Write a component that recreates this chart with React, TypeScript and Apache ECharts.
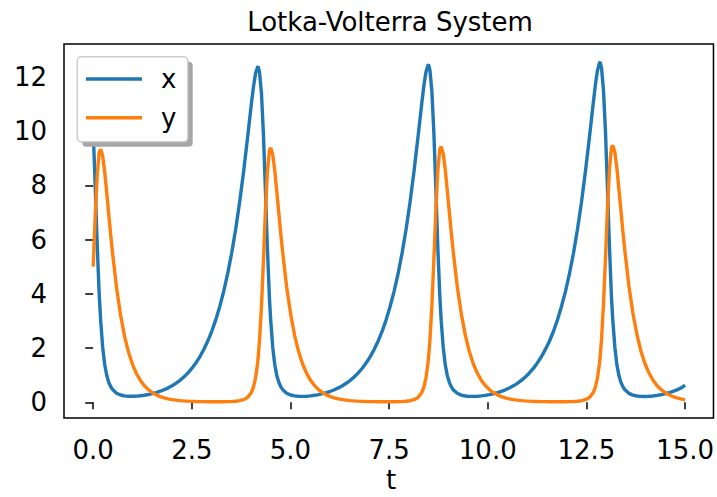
import React, { useEffect, useRef } from "react";
import * as echarts from "echarts";

// time points (t)
const T_VALUES = [
  // start of run, up to first y peak
  0, 0.05, 0.10, 0.15, 0.19,
  // cycle 1, decay
  0.240, 0.291, 0.341, 0.391, 0.442, 0.492, 0.592, 0.693, 0.794, 0.894, 0.995, 1.095, 1.196, 1.297, 1.397, 1.498,
  1.599, 1.699, 1.800, 1.900, 2.001, 2.102, 2.202, 2.303, 2.403, 2.504, 2.605, 2.705, 2.806,
  // cycle 1, growth and peaks
  2.906, 3.007, 3.108, 3.208, 3.309, 3.409, 3.510, 3.611, 3.711, 3.812, 3.912, 4.013,
  4.063, 4.114, 4.164, 4.179, 4.214, 4.265, 4.315, 4.365, 4.416, 4.466, 4.50,
  // cycle 2, decay
  4.550, 4.601, 4.651, 4.702, 4.752, 4.803, 4.903, 5.004, 5.105, 5.206, 5.307, 5.408, 5.508, 5.609, 5.710, 5.811,
  5.912, 6.013, 6.113, 6.214, 6.315, 6.416, 6.517, 6.618, 6.718, 6.819, 6.920, 7.021, 7.122,
  // cycle 2, growth and peaks
  7.223, 7.324, 7.424, 7.525, 7.626, 7.727, 7.828, 7.929, 8.029, 8.130, 8.231, 8.332,
  8.382, 8.433, 8.483, 8.498, 8.534, 8.584, 8.634, 8.685, 8.735, 8.786, 8.82,
  // cycle 3, decay
  8.871, 8.922, 8.972, 9.023, 9.074, 9.125, 9.226, 9.328, 9.429, 9.531, 9.632, 9.734, 9.835, 9.937, 10.038, 10.140,
  10.242, 10.343, 10.445, 10.546, 10.648, 10.749, 10.851, 10.952, 11.054, 11.155, 11.257, 11.359, 11.460,
  // cycle 3, growth and peaks
  11.562, 11.663, 11.765, 11.866, 11.968, 12.069, 12.171, 12.272, 12.374, 12.475, 12.577, 12.679,
  12.729, 12.780, 12.831, 12.846, 12.882, 12.932, 12.983, 13.034, 13.085, 13.135, 13.17,
  // cycle 4, decay
  13.221, 13.272, 13.322, 13.373, 13.424, 13.475, 13.576, 13.678, 13.779, 13.881, 13.982, 14.084, 14.185, 14.287, 14.388, 14.490,
  14.592, 14.693, 14.795, 14.896, 15.00,
];

// prey x(t)
const X_VALUES = [
  10.0, 8.02, 5.87, 4.04, 3.00,
  2.03, 1.40, 1.005, 0.749, 0.581, 0.467, 0.335, 0.269, 0.236, 0.222, 0.220, 0.226, 0.239, 0.259, 0.285, 0.318,
  0.357, 0.407, 0.463, 0.532, 0.610, 0.704, 0.811, 0.938, 1.085, 1.256, 1.455, 1.686, 1.954,
  2.266, 2.627, 3.047, 3.534, 4.098, 4.751, 5.505, 6.377, 7.374, 8.506, 9.757, 11.056,
  11.647, 12.12, 12.355, 12.38, 12.18, 11.386, 9.868, 7.799, 5.648, 3.86, 3.00,
  2.03, 1.40, 1.00, 0.747, 0.579, 0.465, 0.333, 0.267, 0.234, 0.220, 0.218, 0.224, 0.237, 0.257, 0.283, 0.316,
  0.355, 0.405, 0.461, 0.530, 0.608, 0.702, 0.809, 0.936, 1.083, 1.254, 1.453, 1.684, 1.952,
  2.26, 2.62, 3.04, 3.53, 4.09, 4.74, 5.50, 6.37, 7.37, 8.51, 9.77, 11.08,
  11.69, 12.17, 12.42, 12.45, 12.25, 11.45, 9.93, 7.84, 5.67, 3.87, 3.00,
  2.03, 1.39, 1.00, 0.745, 0.577, 0.463, 0.331, 0.265, 0.232, 0.218, 0.216, 0.222, 0.235, 0.255, 0.281, 0.314,
  0.353, 0.402, 0.459, 0.527, 0.605, 0.699, 0.806, 0.932, 1.08, 1.25, 1.45, 1.68, 1.95,
  2.25, 2.61, 3.03, 3.52, 4.08, 4.73, 5.49, 6.36, 7.37, 8.51, 9.78, 11.10,
  11.72, 12.23, 12.51, 12.55, 12.33, 11.52, 9.99, 7.89, 5.70, 3.88, 3.00,
  2.03, 1.39, 0.995, 0.742, 0.575, 0.461, 0.329, 0.263, 0.230, 0.216, 0.214, 0.220, 0.233, 0.253, 0.279, 0.312,
  0.351, 0.40, 0.457, 0.525, 0.63,
];

// predator y(t)
const Y_VALUES = [
  5.00, 6.81, 8.33, 9.21, 9.33,
  9.08, 8.50, 7.76, 6.98, 6.20, 5.48, 4.22, 3.22, 2.44, 1.85, 1.40, 1.06, 0.805, 0.611, 0.465, 0.355,
  0.272, 0.209, 0.162, 0.126, 0.098, 0.078, 0.062, 0.050, 0.041, 0.034, 0.029, 0.025, 0.022,
  0.0205, 0.019, 0.019, 0.019, 0.021, 0.024, 0.030, 0.0386, 0.059, 0.0965, 0.178, 0.374,
  0.569, 0.888, 1.414, 1.63, 2.261, 3.536, 5.229, 7.054, 8.525, 9.30, 9.38,
  9.13, 8.55, 7.80, 7.02, 6.24, 5.52, 4.25, 3.25, 2.46, 1.87, 1.41, 1.07, 0.81, 0.615, 0.468, 0.357,
  0.273, 0.210, 0.162, 0.126, 0.098, 0.078, 0.062, 0.050, 0.041, 0.034, 0.029, 0.025, 0.022,
  0.020, 0.0185, 0.0185, 0.0188, 0.0205, 0.0235, 0.029, 0.038, 0.058, 0.095, 0.176, 0.372,
  0.568, 0.89, 1.42, 1.64, 2.28, 3.56, 5.26, 7.09, 8.57, 9.35, 9.42,
  9.17, 8.59, 7.84, 7.06, 6.27, 5.55, 4.28, 3.27, 2.48, 1.88, 1.42, 1.08, 0.815, 0.618, 0.47, 0.358,
  0.274, 0.21, 0.162, 0.126, 0.098, 0.078, 0.062, 0.05, 0.041, 0.034, 0.029, 0.025, 0.022,
  0.0195, 0.018, 0.018, 0.0183, 0.020, 0.023, 0.028, 0.037, 0.057, 0.094, 0.174, 0.37,
  0.567, 0.89, 1.43, 1.65, 2.30, 3.58, 5.29, 7.13, 8.61, 9.40, 9.47,
  9.22, 8.64, 7.88, 7.10, 6.30, 5.58, 4.30, 3.29, 2.50, 1.89, 1.43, 1.085, 0.82, 0.62, 0.472, 0.36,
  0.275, 0.211, 0.163, 0.127, 0.09,
];

const X_TICKS = [0, 2.5, 5, 7.5, 10, 12.5, 15];
const Y_TICKS = [0, 2, 4, 6, 8, 10, 12];
const SERIES_NAMES = ["x", "y"];
const TITLE = "Lotka-Volterra System";
const X_LABEL = "t";

const FONT = "DejaVu Sans";

export default function App() {
  const ref = useRef<HTMLDivElement>(null);
  useEffect(() => {
    if (!ref.current) return;
    const chart = echarts.init(ref.current, null, { renderer: "svg" });
    const xData = T_VALUES.map((t, i) => [t, X_VALUES[i]]);
    const yData = T_VALUES.map((t, i) => [t, Y_VALUES[i]]);
    chart.setOption({
      animation: false,
      backgroundColor: "#ffffff",
      grid: {
        left: 64,
        top: 44,
        right: 1,
        bottom: 79,
        show: true,
        borderColor: "#000000",
        borderWidth: 1.5,
        backgroundColor: "transparent",
        containLabel: false,
      },
      xAxis: {
        type: "value",
        min: -0.74,
        max: 15.72,
        axisLine: { show: false },
        splitLine: { show: false },
        axisTick: {
          show: true,
          inside: false,
          length: 7,
          customValues: X_TICKS,
          lineStyle: { color: "#000000", width: 1.5 },
        },
        axisLabel: {
          customValues: X_TICKS,
          formatter: (v: number) => v.toFixed(1),
          margin: 19,
          fontSize: 26,
          fontFamily: FONT,
          color: "#000000",
        },
      },
      yAxis: {
        type: "value",
        min: -0.58,
        max: 13.21,
        axisLine: { show: false },
        splitLine: { show: false },
        axisTick: {
          show: true,
          inside: false,
          length: 8,
          customValues: Y_TICKS,
          lineStyle: { color: "#000000", width: 1.5 },
        },
        axisLabel: {
          customValues: Y_TICKS,
          formatter: (v: number) => String(v),
          margin: 17,
          fontSize: 26,
          fontFamily: FONT,
          color: "#000000",
        },
      },
      legend: {
        show: true,
        orient: "vertical",
        left: 86,
        top: 66,
        padding: 0,
        itemGap: 12.7,
        itemWidth: 56,
        itemHeight: 3.5,
        icon: "rect",
        z: 6,
        data: SERIES_NAMES,
        textStyle: {
          fontSize: 26,
          fontFamily: FONT,
          color: "#000000",
          padding: [0, 0, 0, 14],
        },
      },
      graphic: [
        {
          type: "rect",
          z: 5,
          shape: { x: 82.3, y: 61.7, width: 110.4, height: 85, r: 4 },
          style: { fill: "#a6a6a6" },
          silent: true,
        },
        {
          type: "rect",
          z: 5,
          shape: { x: 77.3, y: 56.7, width: 110.4, height: 85, r: 4 },
          style: { fill: "#ffffff", stroke: "#cccccc", lineWidth: 1.5 },
          silent: true,
        },
        {
          type: "text",
          x: 390,
          y: 9,
          style: {
            text: TITLE,
            fontSize: 26,
            fontFamily: FONT,
            fill: "#000000",
            align: "center",
            verticalAlign: "top",
          },
        },
        {
          type: "text",
          x: 391,
          y: 467,
          style: {
            text: X_LABEL,
            fontSize: 26,
            fontFamily: FONT,
            fill: "#000000",
            align: "center",
            verticalAlign: "top",
          },
        },
      ],
      series: [
        {
          name: SERIES_NAMES[0],
          type: "line",
          data: xData,
          symbol: "none",
          showSymbol: false,
          clip: true,
          color: "#1f77b4",
          lineStyle: { color: "#1f77b4", width: 3.4 },
        },
        {
          name: SERIES_NAMES[1],
          type: "line",
          data: yData,
          symbol: "none",
          showSymbol: false,
          clip: true,
          color: "#ff7f0e",
          lineStyle: { color: "#ff7f0e", width: 3.4 },
        },
      ],
    });
    return () => chart.dispose();
  }, []);
  return (
    <div
      ref={ref}
      style={{ position: "fixed", left: 0, top: 0, width: 717, height: 497 }}
    />
  );
}
